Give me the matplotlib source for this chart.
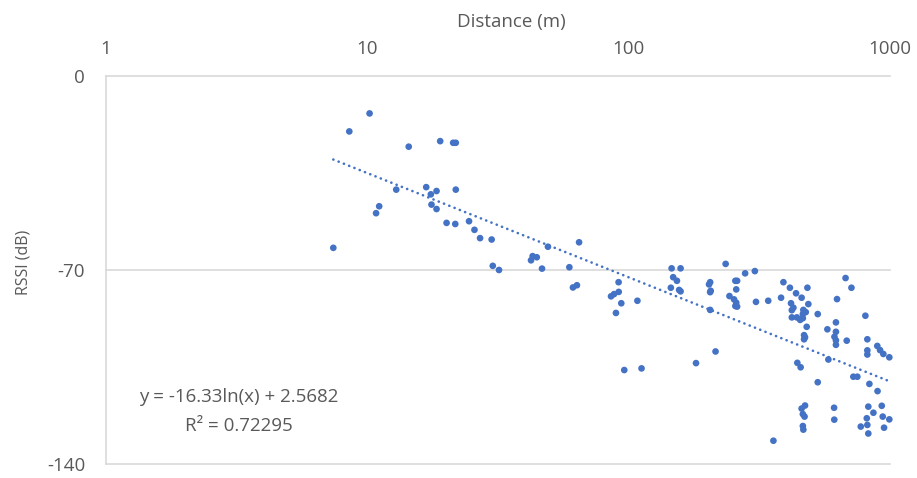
import numpy as np
import matplotlib
matplotlib.use("Agg")
import matplotlib.pyplot as plt

plt.rcParams['font.family'] = ['Open Sans', 'DejaVu Sans']

distance_m = [
    7.41, 8.53, 10.2, 14.4, 19.0, 21.3, 21.8, 12.9, 11.1, 10.8,
    16.8, 18.4, 17.5, 17.6, 18.4, 21.8, 20.1, 21.7, 24.5, 25.7,
    27.0, 29.9, 30.2, 31.9, 42.3, 42.9, 44.5, 46.6, 49.1, 64.6,
    59.3, 61.2, 63.4, 91.5, 85.6, 87.9, 91.6, 93.7, 89.4, 108,
    96.2, 112, 146, 158, 148, 153, 145, 156, 158, 181,
    215, 205, 203, 206, 205, 205, 235, 256, 260, 258,
    243, 253, 258, 256, 260, 279, 304, 307, 342, 391,
    414, 383, 437, 459, 483, 418, 427, 421, 466, 476,
    464, 421, 440, 453, 464, 487, 529, 480, 469, 473,
    469, 442, 455, 529, 676, 712, 627, 621, 576, 621,
    613, 621, 621, 683, 581, 805, 819, 819, 819, 894,
    916, 943, 994, 724, 750, 834, 896, 473, 459, 464,
    471, 464, 466, 611, 612, 826, 864, 930, 938, 994,
    815, 773, 819, 826, 949, 358,
]

rssi_db = [
    -62.0, -20.0, -13.5, -25.5, -23.5, -24.1, -24.1, -41.0, -47.0, -49.5,
    -40.1, -41.5, -42.7, -46.4, -48.0, -41.0, -53.0, -53.4, -52.4, -55.5,
    -58.5, -59.0, -68.5, -70.0, -66.5, -65.0, -65.4, -69.5, -61.6, -60.0,
    -69.0, -76.3, -75.5, -74.4, -79.5, -78.7, -77.9, -82.0, -85.5, -81.1,
    -106.1, -105.5, -69.4, -69.4, -72.6, -73.9, -76.4, -77.2, -77.7, -103.6,
    -99.4, -74.4, -75.2, -77.5, -78.0, -84.4, -67.8, -73.9, -73.9, -77.0,
    -79.4, -80.6, -81.8, -83.0, -83.2, -71.2, -70.4, -81.5, -81.1, -74.4,
    -76.4, -80.0, -78.4, -80.0, -76.4, -82.0, -83.6, -84.5, -84.4, -85.2,
    -85.9, -87.1, -87.1, -88.0, -87.4, -82.3, -85.9, -90.5, -93.5, -94.3,
    -95.0, -103.5, -105.1, -110.5, -72.9, -76.4, -80.5, -88.9, -91.4, -92.3,
    -94.1, -95.4, -97.0, -95.5, -102.3, -86.5, -95.0, -99.0, -100.5, -97.4,
    -98.9, -100.3, -101.5, -108.5, -108.5, -111.1, -113.7, -118.9, -120.0, -122.0,
    -122.9, -126.3, -127.6, -119.7, -124.0, -119.3, -121.5, -119.0, -122.9, -123.9,
    -123.5, -126.5, -125.9, -129.0, -126.9, -131.6,
]

trend_slope = -16.33
trend_intercept = 2.5682
r_squared = "0.72295"

x_ticks = [1, 10, 100, 1000]
x_tick_labels = ["1", "10", "100", "1000"]
y_ticks = [0, -70, -140]
y_tick_labels = ["0", "-70", "-140"]

BLUE = "#4472C4"
GRID = "#D9D9D9"
TEXT = "#595959"

W, H = 917, 478
fig = plt.figure(figsize=(W / 100, H / 100), dpi=100)
ax = fig.add_axes([106 / W, 1 - 464 / H, (890 - 106) / W, (464 - 76) / H])

ax.set_xscale('log')
ax.set_xlim(1, 1000)
ax.set_ylim(-140, 0)

x = np.array(distance_m)
y = np.array(rssi_db)
ax.scatter(x, y, s=23, color=BLUE, edgecolors='none', zorder=3, clip_on=False)

xt = np.geomspace(x.min(), x.max(), 200)
ax.plot(xt, trend_slope * np.log(xt) + trend_intercept, color=BLUE,
        lw=1.9, linestyle=(0, (0.05, 2.1)), dash_capstyle='round', zorder=2)

for yv in y_ticks:
    ax.axhline(yv, color=GRID, lw=1.2, zorder=1, clip_on=False)

for s in ['top', 'right', 'bottom']:
    ax.spines[s].set_visible(False)
ax.spines['left'].set_color(GRID)
ax.spines['left'].set_linewidth(1.2)

ax.xaxis.tick_top()
ax.set_xticks(x_ticks)
ax.set_xticklabels(x_tick_labels)
ax.xaxis.set_minor_locator(matplotlib.ticker.NullLocator())
ax.set_yticks(y_ticks)
ax.set_yticklabels(y_tick_labels)
ax.tick_params(axis='x', length=0, pad=13, labelsize=13.5, labelcolor=TEXT)
ax.tick_params(axis='y', length=0, pad=15, labelsize=13.5, labelcolor=TEXT)

fig.text(511 / W, 1 - 22 / H, "Distance (m)", ha='center', va='center',
         fontsize=13.5, color=TEXT)
fig.text(24 / W, 1 - 262 / H, "RSSI (dB)", ha='center', va='center',
         rotation=90, fontsize=11.5, color=TEXT)

fig.text(239 / W, 1 - 397 / H, "y = -16.33ln(x) + 2.5682", ha='center',
         va='center', fontsize=13.5, color=TEXT)
fig.text(239 / W, 1 - 426 / H, "R² = " + r_squared, ha='center',
         va='center', fontsize=13.5, color=TEXT)

fig.savefig("out.png", dpi=100)
